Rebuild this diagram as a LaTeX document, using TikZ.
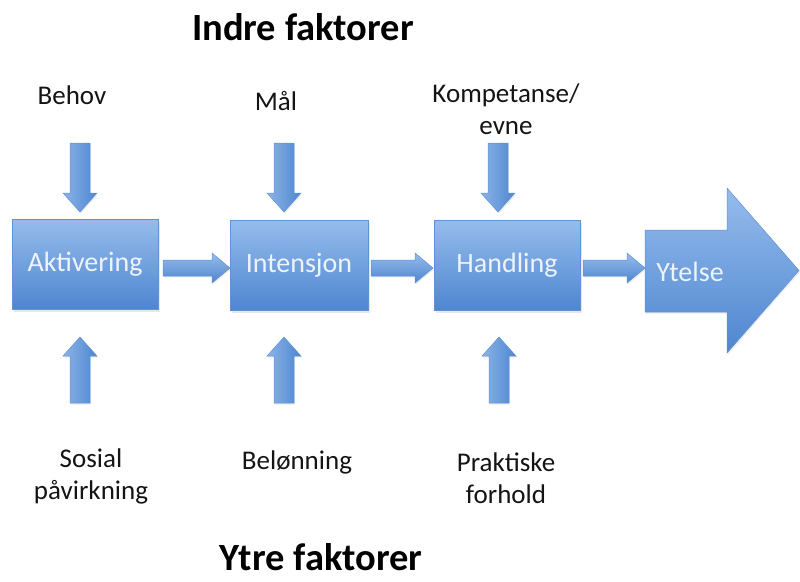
\documentclass[tikz,border=0pt]{standalone}
\usepackage{fontspec}
\setmainfont{Carlito}
\usetikzlibrary{shadows,calc}
\definecolor{btop}{RGB}{150,188,236}
\definecolor{bbot}{RGB}{78,134,208}
\definecolor{bline}{RGB}{96,146,212}
\definecolor{btext}{RGB}{238,243,250}
\definecolor{ltext}{RGB}{20,20,20}
\tikzset{
  stagebox/.style={rectangle, draw=bline, line width=0.8pt, top color=btop, bottom color=bbot,
    minimum width=#1, minimum height=90pt, inner sep=0pt, text=btext,
    font=\fontsize{28}{32}\selectfont,
    drop shadow={opacity=0.18, shadow xshift=1.5pt, shadow yshift=-2.5pt}},
  blockarrow/.style={draw=bline, line width=0.5pt, top color=btop, bottom color=bbot,
    drop shadow={opacity=0.15, shadow xshift=1pt, shadow yshift=-1.5pt}},
  vblockarrow/.style={draw=bline, line width=0.5pt, left color=btop!85!bbot, right color=bbot,
    drop shadow={opacity=0.15, shadow xshift=1pt, shadow yshift=-1.5pt}},
  lbl/.style={text=ltext, align=center, font=\fontsize{27}{32}\selectfont, inner sep=0pt},
  ttl/.style={text=black, font=\fontsize{38.5}{42}\selectfont\bfseries, inner sep=0pt, anchor=base},
}
% horizontal block arrow: x1, x2, y
\newcommand{\harr}[3]{%
  \path[blockarrow] (#1,#3-8) -- (#2-18,#3-8) -- (#2-18,#3-15) -- (#2,#3) -- (#2-18,#3+15)
    -- (#2-18,#3+8) -- (#1,#3+8) -- cycle;}
% vertical block arrow: x, ytail, yhead
\newcommand{\varrdown}[3]{%
  \path[vblockarrow] (#1-10,#2) -- (#1+10,#2) -- (#1+10,#3-19) -- (#1+17,#3-19) -- (#1,#3)
    -- (#1-17,#3-19) -- (#1-10,#3-19) -- cycle;}
\newcommand{\varrup}[3]{%
  \path[vblockarrow] (#1-10,#2) -- (#1+10,#2) -- (#1+10,#3+19) -- (#1+17,#3+19) -- (#1,#3)
    -- (#1-17,#3+19) -- (#1-10,#3+19) -- cycle;}
\begin{document}
\begin{tikzpicture}[x=1pt,y=-1pt]
\useasboundingbox (0,0) rectangle (800,581);
% titles
\node[ttl] (indre) at (303,40) {Indre faktorer};
\node[ttl] (ytre) at (321,570) {Ytre faktorer};
% stage boxes
\node[stagebox=146pt] (akt) at (85,264) {Aktivering};
\node[stagebox=138pt] (int) at (299,265) {Intensjon};
\node[stagebox=146pt] (han) at (507,265) {Handling};
% Ytelse big arrow
\path[blockarrow] (645,230) -- (727,230) -- (727,188) -- (799,270.5) -- (727,353)
  -- (727,312) -- (645,312) -- cycle;
\node[text=btext, font=\fontsize{28}{32}\selectfont, inner sep=0pt] (ytelse) at (690,272) {Ytelse};
% horizontal arrows between stages
\harr{163}{230}{268}
\harr{371}{433}{268}
\harr{583}{645}{268}
% labels
\node[lbl] (behov) at (72,95) {Behov};
\node[lbl] (maal) at (276,101) {Mål};
\node[lbl] (komp) at (506,109) {Kompetanse/\\evne};
\node[lbl] (sosial) at (91,476) {Sosial\\påvirkning};
\node[lbl] (belon) at (297,462) {Belønning};
\node[lbl] (prakt) at (506,478) {Praktiske\\forhold};
% vertical arrows
\varrdown{80}{143}{212}
\varrdown{284}{143}{212}
\varrdown{498}{143}{212}
\varrup{80}{403}{337}
\varrup{284}{403}{337}
\varrup{499}{403}{337}
\end{tikzpicture}
\end{document}
